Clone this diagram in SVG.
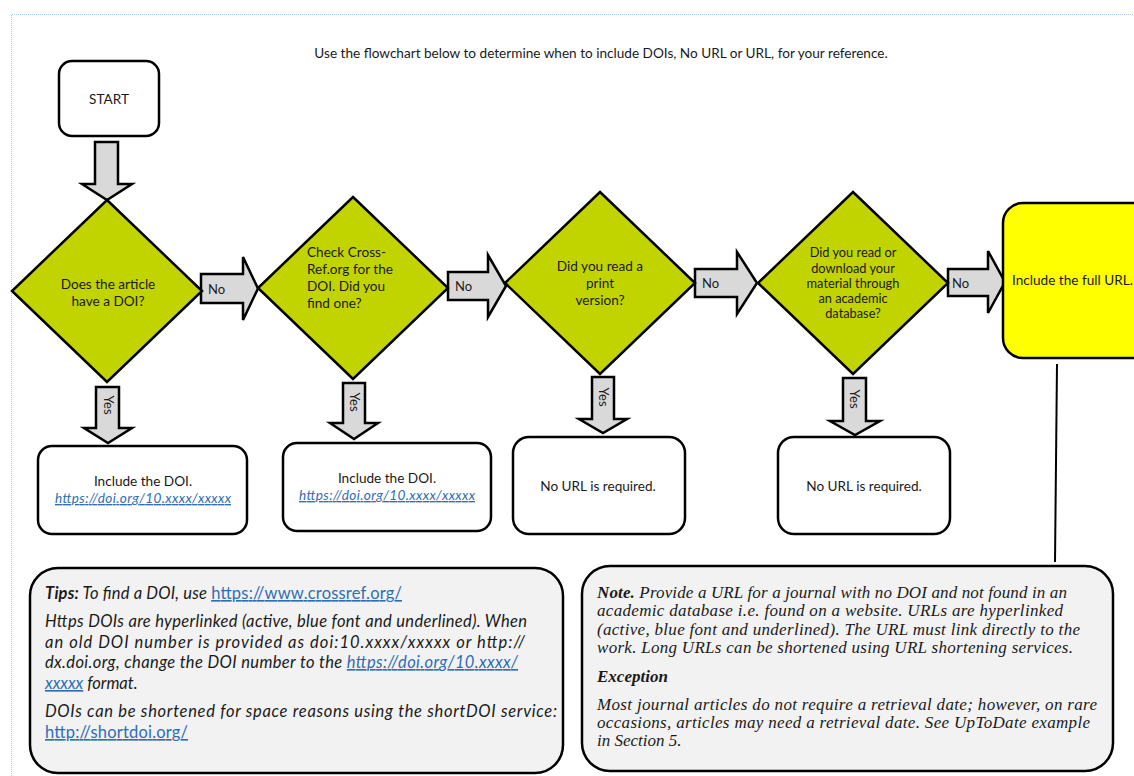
<svg xmlns="http://www.w3.org/2000/svg" width="1134" height="776" viewBox="0 0 1134 776">
<style>
.bg{fill:#ffffff}
.frame{fill:none;stroke:#a9cbe8;stroke-width:1;stroke-dasharray:1 1}
.box{fill:#ffffff;stroke:#000;stroke-width:2.5}
.yel{fill:#ffff00;stroke:#000;stroke-width:2.5}
.dia{fill:#c2d400;stroke:#000;stroke-width:2.5;stroke-linejoin:miter}
.arr{fill:#d9d9d9;stroke:#000;stroke-width:2.5;stroke-linejoin:miter}
.note{fill:#f2f2f2;stroke:#000;stroke-width:2.5}
.t{font-family:Lato,"Open Sans","Liberation Sans",sans-serif;font-size:13.6px;fill:#1a1a1a}
.s{font-size:12.8px}
.c{text-anchor:middle}
.lab{font-family:Lato,"Open Sans","Liberation Sans",sans-serif;font-size:13px;fill:#1a1a1a}
.link{fill:#2f6db5;text-decoration:underline}
.ti{font-family:Lato,"Open Sans","Liberation Sans",sans-serif;font-size:16.5px;font-style:italic;fill:#1a1a1a}
.tr{font-family:"Liberation Serif","Times New Roman",serif;font-size:17px;font-style:italic;fill:#1a1a1a}
.line{stroke:#000;stroke-width:2;fill:none}
</style>
<rect class="bg" x="0" y="0" width="1134" height="776"/>
<path class="frame" d="M11.5 776 V14.5 H1134"/>

<text id="title" class="t c" x="601" y="58">Use the flowchart below to determine when to include DOIs, No URL or URL, for your reference.</text>

<g id="connectors">
  <polygon class="arr" points="95,142 118,142 118,184 132,184 107,200 82,184 95,184"/>
  <polygon class="arr" points="201,274 243,274 243,257 258,288.5 243,320 243,303 201,303"/>
  <text class="lab" x="208" y="294">No</text>
  <polygon class="arr" points="448,272 488,272 488,255 506,286 488,317 488,300 448,300"/>
  <text class="lab" x="455" y="291">No</text>
  <polygon class="arr" points="695,269 737,269 737,252 757,283 737,314 737,297 695,297"/>
  <text class="lab" x="702" y="288">No</text>
  <polygon class="arr" points="948,269 988,269 988,251 1005,282 988,313 988,296 948,296"/>
  <text class="lab" x="952" y="288">No</text>
  <polygon class="arr" points="96,387 119,387 119,428 132,428 108,443 84,428 96,428"/>
  <text class="lab c" transform="translate(103.5,405) rotate(90)">Yes</text>
  <polygon class="arr" points="343,383 365,383 365,423 378,423 354,439 330,423 343,423"/>
  <text class="lab c" transform="translate(349.5,402) rotate(90)">Yes</text>
  <polygon class="arr" points="592,377 614,377 614,419 627,419 603,433 579,419 592,419"/>
  <text class="lab c" transform="translate(598.5,397) rotate(90)">Yes</text>
  <polygon class="arr" points="843,378 866,378 866,421 880,421 855,435 830,421 843,421"/>
  <text class="lab c" transform="translate(850,399) rotate(90)">Yes</text>
  <path class="line" d="M1057 364 L1055 562"/>
</g>

<g id="start">
  <rect class="box" x="59" y="61" width="100" height="75" rx="13"/>
  <text class="t c" x="109" y="104">START</text>
</g>

<g id="q1">
  <polygon class="dia" points="107,200 202,291 107,382 12,291"/>
  <text class="t c" x="108" y="289">Does the article</text>
  <text class="t c" x="108" y="306">have a DOI?</text>
</g>

<g id="q2">
  <polygon class="dia" points="353,197 448,288 353,379 258,288"/>
  <text class="t" x="307" y="257">Check Cross-</text>
  <text class="t" x="307" y="274">Ref.org for the</text>
  <text class="t" x="307" y="291">DOI. Did you</text>
  <text class="t" x="307" y="308">find one?</text>
</g>

<g id="q3">
  <polygon class="dia" points="600,192 695,283 600,374 505,283"/>
  <text class="t c" x="600" y="271">Did you read a</text>
  <text class="t c" x="600" y="288">print</text>
  <text class="t c" x="600" y="305">version?</text>
</g>

<g id="q4">
  <polygon class="dia" points="853,192 948,283 853,374 758,283"/>
  <text class="t s c" x="853" y="257">Did you read or</text>
  <text class="t s c" x="853" y="273">download your</text>
  <text class="t s c" x="853" y="288">material through</text>
  <text class="t s c" x="853" y="303">an academic</text>
  <text class="t s c" x="853" y="318">database?</text>
</g>

<g id="fullurl">
  <rect class="yel" x="1003" y="203" width="150" height="155" rx="20"/>
  <text class="t" x="1012" y="285">Include the full URL.</text>
</g>

<g id="doi1">
  <rect class="box" x="38" y="446" width="209" height="88" rx="14"/>
  <text class="t c" x="143" y="486">Include the DOI.</text>
  <text class="t c link" x="143" y="503" font-style="italic" textLength="176">https://doi.org/10.xxxx/xxxxx</text>
</g>

<g id="doi2">
  <rect class="box" x="283" y="443" width="208" height="88" rx="14"/>
  <text class="t c" x="387" y="483">Include the DOI.</text>
  <text class="t c link" x="387" y="500" font-style="italic" textLength="176">https://doi.org/10.xxxx/xxxxx</text>
</g>

<g id="nourl1">
  <rect class="box" x="513" y="437" width="172" height="97" rx="16"/>
  <text class="t c" x="598" y="491">No URL is required.</text>
</g>

<g id="nourl2">
  <rect class="box" x="778" y="437" width="172" height="97" rx="16"/>
  <text class="t c" x="864" y="491">No URL is required.</text>
</g>

<g id="tips">
  <rect class="note" x="30" y="568" width="533" height="205" rx="28"/>
  <text class="ti" x="45" y="599" textLength="357"><tspan font-weight="bold">Tips:</tspan> To find a DOI, use <tspan class="link" font-style="normal">https://www.crossref.org/</tspan></text>
  <text class="ti" x="45" y="627" textLength="482">Https DOIs are hyperlinked (active, blue font and underlined). When</text>
  <text class="ti" x="45" y="648" textLength="480">an old DOI number is provided as doi:10.xxxx/xxxxx or http://</text>
  <text class="ti" x="45" y="668" textLength="473">dx.doi.org, change the DOI number to the <tspan class="link">https://doi.org/10.xxxx/</tspan></text>
  <text class="ti" x="45" y="689"><tspan class="link">xxxxx</tspan> format.</text>
  <text class="ti" x="45" y="717" textLength="512">DOIs can be shortened for space reasons using the shortDOI service:</text>
  <text class="ti" x="45" y="738" textLength="143"><tspan class="link" font-style="normal">http://shortdoi.org/</tspan></text>
</g>

<g id="note">
  <rect class="note" x="582" y="566" width="531" height="205" rx="28"/>
  <text class="tr" x="597" y="598" textLength="470"><tspan font-weight="bold">Note.</tspan> Provide a URL for a journal with no DOI and not found in an</text>
  <text class="tr" x="597" y="616" textLength="466">academic database i.e. found on a website. URLs are hyperlinked</text>
  <text class="tr" x="597" y="635" textLength="483">(active, blue font and underlined). The URL must link directly to the</text>
  <text class="tr" x="597" y="653" textLength="476">work. Long URLs can be shortened using URL shortening services.</text>
  <text class="tr" x="597" y="682" font-weight="bold">Exception</text>
  <text class="tr" x="597" y="710" textLength="500">Most journal articles do not require a retrieval date; however, on rare</text>
  <text class="tr" x="597" y="728" textLength="493">occasions, articles may need a retrieval date. See UpToDate example</text>
  <text class="tr" x="597" y="746">in Section 5.</text>
</g>
</svg>
